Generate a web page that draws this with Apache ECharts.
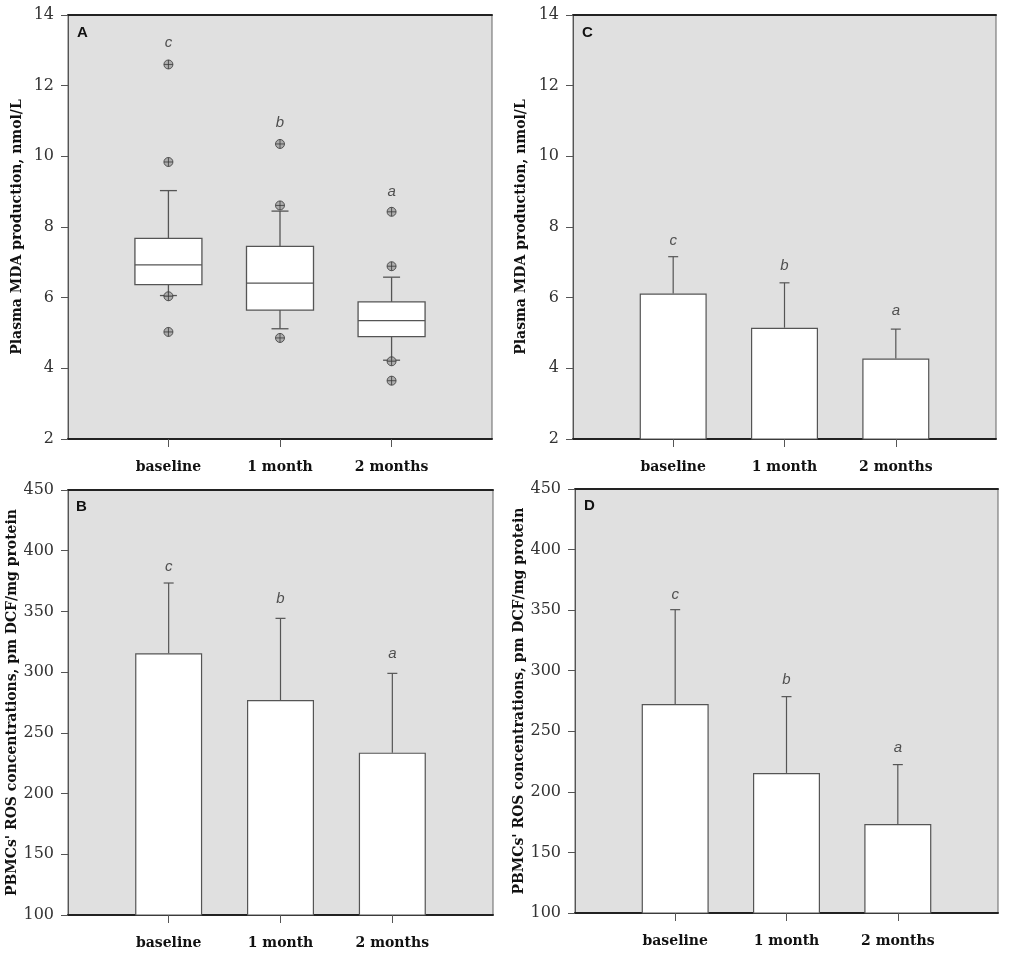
<!DOCTYPE html>
<html><head><meta charset="utf-8">
<script src="https://cdn.jsdelivr.net/npm/echarts@6/dist/echarts.min.js"></script>
<style>html,body{margin:0;padding:0;background:#fff}#c{width:1024px;height:962px}</style>
</head><body><div id="c"></div><script>
// ---- data ----
const categories = ['baseline', '1 month', '2 months'];
const groupLetters = ['c', 'b', 'a'];
const panelNames = ['A', 'B', 'C', 'D'];

// Panel A: box plot of plasma MDA (nmol/L)
const mdaBoxLow = [6.06, 5.12, 4.23];
const mdaBoxQ1 = [6.37, 5.65, 4.90];
const mdaBoxMedian = [6.93, 6.41, 5.35];
const mdaBoxQ3 = [7.68, 7.45, 5.88];
const mdaBoxHigh = [9.03, 8.45, 6.58];
const mdaOutliers = [[12.6, 9.84, 6.04, 5.03], [10.35, 8.61, 4.86], [8.43, 6.89, 4.2, 3.65]];
const mdaBoxLetterY = [13.2, 10.94, 9.0];

// Panel C: plasma MDA mean and mean+SD
const mdaMean = [6.12, 5.15, 4.28];
const mdaUpper = [7.16, 6.42, 5.11];
const mdaBarLetterY = [7.61, 6.9, 5.63];

// Panel B: PBMCs' ROS mean and mean+SD
const rosBMean = [315.5, 277, 233.7];
const rosBUpper = [373.4, 344.3, 299];
const rosBLetterY = [387, 360, 315];

// Panel D: PBMCs' ROS mean and mean+SD
const rosDMean = [272.5, 215.6, 173.5];
const rosDUpper = [350.4, 278.6, 222.5];
const rosDLetterY = [362.8, 292.6, 236];

const mdaTicks = {min: 2, max: 14, interval: 2};
const rosTicks = {min: 100, max: 450, interval: 50};
const mdaTitle = 'Plasma MDA production, nmol/L';
const rosTitle = "PBMCs' ROS concentrations, pm DCF/mg protein";

// ---- layout / style ----
const grids = [
  {left: 68, top: 15, width: 424, height: 424},   // A
  {left: 68, top: 490, width: 425, height: 425},  // B
  {left: 573, top: 15, width: 423, height: 424},  // C
  {left: 575, top: 489, width: 423, height: 424}  // D
];
const nameGaps = [44, 47, 45, 47];
const axisDefs = [mdaTicks, rosTicks, mdaTicks, rosTicks];
const axisTitles = [mdaTitle, rosTitle, mdaTitle, rosTitle];
const LINE = '#555';

const chart = echarts.init(document.getElementById('c'), null, {renderer: 'canvas'});

const xAxes = [], yAxes = [], series = [];
grids.forEach((g, i) => {
  xAxes.push({
    gridIndex: i, type: 'value', min: -0.9, max: 2.9, position: 'bottom',
    axisLine: {show: true, onZero: false, lineStyle: {color: '#222', width: 2}},
    axisTick: {show: true, customValues: [0, 1, 2], length: 8, lineStyle: {color: LINE, width: 1}},
    axisLabel: {show: true, customValues: [0, 1, 2], margin: 21,
      formatter: v => categories[Math.round(v)] || '',
      fontFamily: 'DejaVu Serif', fontWeight: 'bold', fontSize: 14, color: '#111'},
    splitLine: {show: false}
  });
  xAxes.push({
    gridIndex: i, type: 'value', min: -0.9, max: 2.9, position: 'top',
    axisLine: {show: true, onZero: false, lineStyle: {color: '#222', width: 2}},
    axisTick: {show: false}, axisLabel: {show: false}, splitLine: {show: false}
  });
  const d = axisDefs[i];
  yAxes.push({
    gridIndex: i, type: 'value', min: d.min, max: d.max, interval: d.interval, position: 'left',
    name: axisTitles[i], nameLocation: 'middle', nameRotate: 90, nameGap: nameGaps[i],
    nameTextStyle: {fontFamily: 'DejaVu Serif', fontWeight: 'bold', fontSize: 14, color: '#111'},
    axisLine: {show: true, onZero: false, lineStyle: {color: LINE, width: 1}},
    axisTick: {show: true, inside: false, length: 7, lineStyle: {color: LINE}},
    axisLabel: {margin: 14, fontFamily: 'DejaVu Serif', fontSize: 16, color: '#333'},
    splitLine: {show: false}
  });
});

function renderBox(params, api) {
  const x = api.value(0);
  const lo = api.coord([x, api.value(1)]);
  const q1 = api.coord([x, api.value(2)]);
  const md = api.coord([x, api.value(3)]);
  const q3 = api.coord([x, api.value(4)]);
  const hi = api.coord([x, api.value(5)]);
  const hw = 33.5, cw = 8.5;
  const ls = {stroke: LINE, lineWidth: 1.3};
  return {type: 'group', children: [
    {type: 'line', shape: {x1: hi[0], y1: hi[1], x2: q3[0], y2: q3[1]}, style: ls},
    {type: 'line', shape: {x1: lo[0], y1: lo[1], x2: q1[0], y2: q1[1]}, style: ls},
    {type: 'line', shape: {x1: hi[0] - cw, y1: hi[1], x2: hi[0] + cw, y2: hi[1]}, style: ls},
    {type: 'line', shape: {x1: lo[0] - cw, y1: lo[1], x2: lo[0] + cw, y2: lo[1]}, style: ls},
    {type: 'rect', shape: {x: q3[0] - hw, y: q3[1], width: 2 * hw, height: q1[1] - q3[1]},
      style: {fill: '#fff', stroke: LINE, lineWidth: 1.3}},
    {type: 'line', shape: {x1: md[0] - hw, y1: md[1], x2: md[0] + hw, y2: md[1]}, style: ls}
  ]};
}

function renderErr(params, api) {
  const x = api.value(0);
  const p0 = api.coord([x, api.value(1)]);
  const p1 = api.coord([x, api.value(2)]);
  const cw = 5;
  const ls = {stroke: LINE, lineWidth: 1.2};
  return {type: 'group', children: [
    {type: 'line', shape: {x1: p0[0], y1: p0[1], x2: p1[0], y2: p1[1]}, style: ls},
    {type: 'line', shape: {x1: p1[0] - cw, y1: p1[1], x2: p1[0] + cw, y2: p1[1]}, style: ls}
  ]};
}

function letterSeries(gi, ys) {
  return {
    type: 'scatter', xAxisIndex: gi * 2, yAxisIndex: gi, symbolSize: 1, z: 5,
    itemStyle: {color: 'rgba(0,0,0,0)'}, silent: true,
    data: ys.map((y, i) => [i, y, groupLetters[i]]),
    label: {show: true, position: 'inside', formatter: p => p.value[2],
      fontFamily: 'Liberation Sans', fontStyle: 'italic', fontSize: 15, color: '#2a2a2a'}
  };
}

function barPanel(gi, mean, upper, letterY) {
  series.push({
    type: 'bar', xAxisIndex: gi * 2, yAxisIndex: gi, barWidth: 67, clip: true,
    itemStyle: {color: '#fff', borderColor: LINE, borderWidth: 1.2},
    data: mean.map((v, i) => [i, v]), z: 2
  });
  series.push({
    type: 'custom', xAxisIndex: gi * 2, yAxisIndex: gi, renderItem: renderErr, z: 3,
    encode: {x: 0, y: [1, 2]},
    data: mean.map((v, i) => [i, v, upper[i]])
  });
  series.push(letterSeries(gi, letterY));
}

// Panel A
series.push({
  type: 'custom', xAxisIndex: 0, yAxisIndex: 0, renderItem: renderBox, z: 2,
  encode: {x: 0, y: [1, 2, 3, 4, 5]},
  data: categories.map((c, i) => [i, mdaBoxLow[i], mdaBoxQ1[i], mdaBoxMedian[i], mdaBoxQ3[i], mdaBoxHigh[i]])
});
series.push({
  type: 'scatter', xAxisIndex: 0, yAxisIndex: 0, z: 4,
  symbol: 'path://M10,2 A8,8 0 1,1 9.99,2 Z M2,10 L18,10 M10,2 L10,18',
  symbolSize: 9,
  itemStyle: {color: '#a0a0a0', borderColor: '#3a3a3a', borderWidth: 1},
  data: mdaOutliers.flatMap((arr, i) => arr.map(v => [i, v]))
});
series.push(letterSeries(0, mdaBoxLetterY));
// Panels B, C, D
barPanel(1, rosBMean, rosBUpper, rosBLetterY);
barPanel(2, mdaMean, mdaUpper, mdaBarLetterY);
barPanel(3, rosDMean, rosDUpper, rosDLetterY);

const panelPos = [[77, 25], [76, 499], [582, 25], [584, 498]];
const graphic = panelNames.map((n, i) => ({
  type: 'text', left: panelPos[i][0], top: panelPos[i][1],
  style: {text: n, fontFamily: 'Liberation Sans', fontWeight: 'bold', fontSize: 15, fill: '#111'}
}));

chart.setOption({
  animation: false,
  grid: grids.map(g => Object.assign({show: true, backgroundColor: '#e0e0e0', borderColor: '#666', borderWidth: 1}, g)),
  xAxis: xAxes,
  yAxis: yAxes,
  series: series,
  graphic: graphic
});
</script></body></html>
